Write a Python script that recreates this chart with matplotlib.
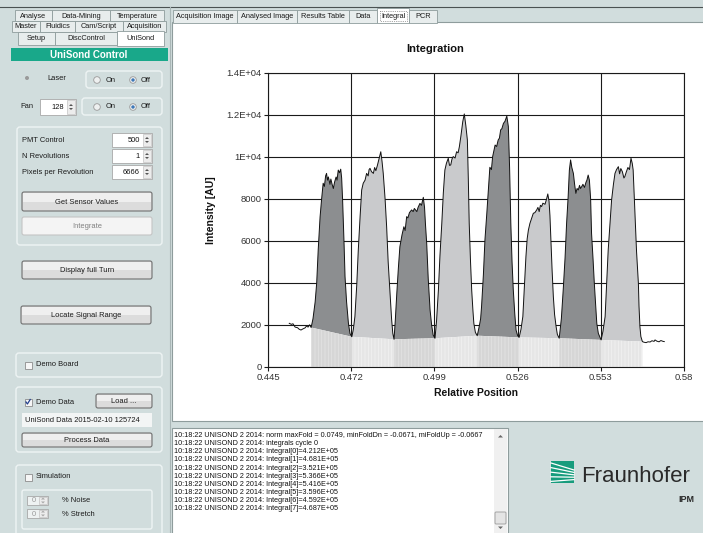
import numpy as np
import matplotlib.pyplot as plt
from matplotlib.patches import Rectangle, FancyBboxPatch, Circle, Polygon

# ---- chart data: (relative position, intensity) ----
trace = [
    # noise before first peak
    (0.4519, 2080), (0.4526, 2030), (0.4531, 2060), (0.4538, 1900), (0.4546, 1870),
    (0.4551, 1800), (0.4557, 1760), (0.4564, 1820), (0.4570, 1860), (0.4575, 1950),
    (0.4580, 1900), (0.4585, 2010), (0.4590, 1880),
    # peak 1
    (0.4596, 2300), (0.4603, 3100), (0.4608, 4000), (0.4613, 5600), (0.4619, 7150),
    (0.4624, 8000), (0.4629, 8750), (0.4633, 8600), (0.4637, 9100), (0.4640, 9220),
    (0.4643, 8900), (0.4646, 9050), (0.4651, 8700), (0.4654, 8950), (0.4658, 8700),
    (0.4662, 8500), (0.4666, 8800), (0.4671, 9050), (0.4674, 8900), (0.4678, 9380),
    (0.4682, 9250), (0.4686, 9420), (0.4689, 9000), (0.4692, 8000), (0.4694, 7150),
    (0.4697, 5800), (0.4700, 4300), (0.4705, 3100), (0.4711, 2080), (0.4716, 1600),
    (0.4722, 1440),
    # peak 2
    (0.4727, 1800), (0.4732, 2400), (0.4738, 3900), (0.4743, 5570), (0.4749, 7200),
    (0.4754, 8430), (0.4759, 8750), (0.4765, 8900), (0.4770, 9220), (0.4775, 9100),
    (0.4778, 9400), (0.4781, 9460), (0.4786, 9300), (0.4792, 9220), (0.4796, 9500),
    (0.4800, 9350), (0.4805, 9600), (0.4810, 9900), (0.4816, 10250), (0.4820, 9800),
    (0.4824, 9220), (0.4830, 8000), (0.4835, 6680), (0.4840, 5000), (0.4846, 3510),
    (0.4851, 2300), (0.4855, 1600), (0.4859, 1320),
    # peak 3
    (0.4863, 2200), (0.4868, 3510), (0.4873, 4700), (0.4878, 5730), (0.4885, 6300),
    (0.4891, 6680), (0.4895, 6500), (0.4900, 7160), (0.4904, 7100), (0.4909, 7350),
    (0.4916, 7480), (0.4921, 7400), (0.4925, 7550), (0.4933, 7400), (0.4937, 7600),
    (0.4943, 7790), (0.4948, 7700), (0.4954, 8080), (0.4958, 7600), (0.4961, 6800),
    (0.4965, 5890), (0.4970, 4200), (0.4976, 2710), (0.4981, 2000), (0.4986, 1520),
    (0.4992, 1370),
    # peak 4
    (0.4997, 2200), (0.5003, 3670), (0.5008, 5300), (0.5014, 6840), (0.5019, 8300),
    (0.5024, 9380), (0.5029, 9700), (0.5035, 9940), (0.5039, 9600), (0.5043, 9620),
    (0.5047, 9900), (0.5051, 10020), (0.5057, 9950), (0.5062, 10250), (0.5067, 10200),
    (0.5071, 10490), (0.5076, 11000), (0.5082, 11680), (0.5087, 12050), (0.5092, 11500),
    (0.5097, 10810), (0.5100, 9000), (0.5103, 6840), (0.5107, 5100), (0.5111, 3670),
    (0.5115, 2700), (0.5118, 2080), (0.5123, 1650), (0.5129, 1490),
    # peak 5
    (0.5135, 1900), (0.5140, 2300), (0.5143, 2870), (0.5149, 4400), (0.5154, 6050),
    (0.5160, 7300), (0.5165, 8430), (0.5170, 9510), (0.5175, 9400), (0.5179, 10020),
    (0.5183, 10300), (0.5187, 10570), (0.5192, 10500), (0.5197, 10810), (0.5201, 10900),
    (0.5205, 11290), (0.5209, 11350), (0.5214, 11600), (0.5219, 11700), (0.5225, 11950),
    (0.5230, 11450), (0.5234, 9500), (0.5238, 6840), (0.5242, 5000), (0.5246, 3670),
    (0.5251, 2500), (0.5255, 1760), (0.5260, 1500), (0.5265, 1410),
    # peak 6
    (0.5271, 1800), (0.5277, 2400), (0.5282, 3800), (0.5287, 5250), (0.5291, 6100),
    (0.5295, 6520), (0.5300, 6840), (0.5306, 7100), (0.5311, 7320), (0.5316, 7350),
    (0.5322, 7480), (0.5326, 7600), (0.5330, 7400), (0.5334, 7700), (0.5338, 7640),
    (0.5342, 7800), (0.5349, 7750), (0.5354, 8000), (0.5358, 8240), (0.5362, 7900),
    (0.5365, 7200), (0.5368, 6050), (0.5372, 4600), (0.5376, 3350), (0.5380, 2500),
    (0.5385, 1920), (0.5389, 1550), (0.5395, 1370),
    # peak 7
    (0.5402, 2300), (0.5408, 3670), (0.5414, 5200), (0.5419, 6840), (0.5424, 8100),
    (0.5428, 9380), (0.5432, 9860), (0.5436, 9500), (0.5441, 9220), (0.5445, 8700),
    (0.5449, 8270), (0.5453, 8500), (0.5457, 8430), (0.5461, 8650), (0.5464, 8500),
    (0.5468, 8590), (0.5472, 8700), (0.5477, 8550), (0.5482, 8800), (0.5485, 8900),
    (0.5489, 9140), (0.5493, 8900), (0.5497, 8000), (0.5500, 6360), (0.5505, 5100),
    (0.5509, 3980), (0.5513, 3000), (0.5517, 2080), (0.5522, 1600), (0.5531, 1290),
    # peak 8
    (0.5537, 1700), (0.5544, 2400), (0.5549, 4000), (0.5554, 5570), (0.5560, 6900),
    (0.5565, 7950), (0.5571, 8700), (0.5576, 9220), (0.5581, 9400), (0.5587, 9540),
    (0.5591, 9200), (0.5595, 9450), (0.5600, 9300), (0.5605, 9000), (0.5608, 9070),
    (0.5613, 9300), (0.5618, 9500), (0.5623, 9400), (0.5628, 9940), (0.5632, 9700),
    (0.5635, 9380), (0.5638, 8300), (0.5641, 7160), (0.5646, 5500), (0.5652, 3980),
    (0.5654, 2900), (0.5657, 1920), (0.5660, 1450), (0.5665, 1210),
    # tail
    (0.5670, 1180), (0.5677, 1160), (0.5683, 1200), (0.5690, 1190), (0.5696, 1250),
    (0.5703, 1220), (0.5706, 1290), (0.5712, 1230), (0.5719, 1200), (0.5725, 1260),
    (0.5732, 1220), (0.5736, 1210),
]
# integration windows (start of peak 1 ... end of peak 8)
seg_edges = [0.4590, 0.4722, 0.4859, 0.4992, 0.5129, 0.5265, 0.5395, 0.5531, 0.5665]

x_ticks = [0.445, 0.472, 0.499, 0.526, 0.553, 0.58]
x_tick_labels = ['0.445', '0.472', '0.499', '0.526', '0.553', '0.58']
y_ticks = [0, 2000, 4000, 6000, 8000, 10000, 12000, 14000]
y_tick_labels = ['0', '2000', '4000', '6000', '8000', '1E+04', '1.2E+04', '1.4E+04']

integrals = [4.212e5, 4.681e5, 3.521e5, 5.366e5, 5.416e5, 3.596e5, 4.592e5, 4.687e5]
log_head = ['norm maxFold = 0.0749, minFoldDn = -0.0671, miFoldUp = -0.0667',
            'integrals cycle 0']
stamp = '10:18:22 UNISOND 2 2014: '

chart_tabs = ['Acquisition Image', 'Analysed Image', 'Results Table', 'Data', 'Integral', 'PCR']
chart_tab_x = [173, 237, 297, 349, 377, 409, 437]

plt.rcParams['font.family'] = ['Liberation Sans', 'DejaVu Sans']
plt.rcParams['hatch.linewidth'] = 0.6

W, H = 703, 533
BG = '#d1dddd'
fig = plt.figure(figsize=(W / 100, H / 100), dpi=100)
fig.patch.set_facecolor(BG)

# full-size axes in pixel units for the GUI around the chart
ui = fig.add_axes([0, 0, 1, 1])
ui.set_xlim(0, W)
ui.set_ylim(H, 0)
ui.axis('off')


def rbox(x0, y0, x1, y1, fc, ec, lw=0.8, r=0, z=2, ls='-'):
    if r:
        p = FancyBboxPatch((x0, y0), x1 - x0, y1 - y0, boxstyle=f'round,pad=0,rounding_size={r}',
                           fc=fc, ec=ec, lw=lw, zorder=z, ls=ls)
    else:
        p = Rectangle((x0, y0), x1 - x0, y1 - y0, fc=fc, ec=ec, lw=lw, zorder=z, ls=ls)
    ui.add_patch(p)


def txt(x, y, s, size=5.4, ha='left', color='#1a1a1a', weight='normal', z=6):
    ui.text(x, y, s, fontsize=size, ha=ha, va='center', color=color, fontweight=weight, zorder=z)


def button(x0, y0, x1, y1, s, enabled=True):
    if enabled:
        rbox(x0, y0, x1, y1, '#dcdcdc', '#707070', 0.8, 2)
        rbox(x0 + 1, y0 + 1, x1 - 1, (y0 + y1) / 2, '#efefef', 'none', 0, 0, z=3)
        txt((x0 + x1) / 2, (y0 + y1) / 2 + 0.5, s, ha='center')
    else:
        rbox(x0, y0, x1, y1, '#f4f4f4', '#c4c4c4', 0.8, 2)
        txt((x0 + x1) / 2, (y0 + y1) / 2 + 0.5, s, ha='center', color='#808080')


def group(x0, y0, x1, y1):
    rbox(x0, y0, x1, y1, 'none', '#eef4f4', 1.0, 3, z=1.5)


def radio(x, y, on):
    ui.add_patch(Circle((x, y), 3.3, fc='#eef0f0', ec='#9a9a9a', lw=0.6, zorder=4))
    if on:
        ui.add_patch(Circle((x, y), 1.7, fc='#3d78b8', ec='none', zorder=5))


def check(x, y, on):
    ui.add_patch(Rectangle((x - 3.5, y - 3.5), 7, 7, fc='#f6f6f6', ec='#8c8c8c', lw=0.6, zorder=4))
    if on:
        ui.plot([x - 2, x - 0.6, x + 2.2], [y, y + 2, y - 2.5], color='#23408e', lw=0.9, zorder=5)


def spin(x0, y0, x1, y1, val, enabled=True):
    rbox(x0, y0, x1, y1, 'white' if enabled else '#eef2f2', '#a8a8a8', 0.6)
    rbox(x1 - 9, y0 + 1, x1 - 1, y1 - 1, '#ececec', '#c4c4c4', 0.5, z=3)
    ym = (y0 + y1) / 2
    tc = '#555' if enabled else '#aaa'
    ui.add_patch(Polygon([(x1 - 7, ym - 1), (x1 - 3, ym - 1), (x1 - 5, ym - 3)], fc=tc, ec='none', zorder=4))
    ui.add_patch(Polygon([(x1 - 7, ym + 1), (x1 - 3, ym + 1), (x1 - 5, ym + 3)], fc=tc, ec='none', zorder=4))
    txt(x1 - 12, ym + 0.5, val, ha='right', color='#111' if enabled else '#9a9a9a')


def tab(x0, y0, x1, y1, s, sel=False):
    rbox(x0, y0, x1, y1, 'white' if sel else '#e8eded', '#8e9c9c', 0.6)
    txt((x0 + x1) / 2, (y0 + y1) / 2 + 0.5, s, ha='center', size=5.3)


# top strip and panel divider
ui.plot([0, W], [7, 7], color='#4a5252', lw=0.8, zorder=3)
ui.plot([169.5, 169.5], [7, H], color='#a9b6b6', lw=0.8, zorder=3)

# left tab rows
for s, a, b in [('Analyse', 15, 52), ('Data-Mining', 52, 110), ('Temperature', 110, 164)]:
    tab(a, 10, b, 21, s)
for s, a, b in [('Master', 12, 40), ('Fluidics', 40, 75), ('Cam/Script', 75, 123), ('Acquisition', 123, 166)]:
    tab(a, 21, b, 32, s)
for s, a, b in [('Setup', 18, 55), ('DiscControl', 55, 117)]:
    tab(a, 32, b, 45, s)
tab(117, 31, 164, 46, 'UniSond', sel=True)

rbox(11, 48, 168, 61, '#19a88a', 'none', 0)
txt(89, 55, 'UniSond Control', size=7, ha='center', color='white', weight='bold')

# laser / fan
ui.add_patch(Circle((27, 78), 2, fc='#9a9a9a', ec='none', zorder=4))
txt(47, 79, 'Laser')
rbox(86, 71, 162, 88, 'none', '#eef4f4', 1.0, 3)
radio(97, 80, False)
txt(106, 80, 'On')
radio(133, 80, True)
txt(141, 80, 'Off')

txt(20, 107, 'Fan')
spin(40, 99, 76, 115, '128')
rbox(82, 98, 162, 115, 'none', '#eef4f4', 1.0, 3)
radio(97, 107, False)
txt(106, 107, 'On')
radio(133, 107, True)
txt(141, 107, 'Off')

# PMT group
group(17, 127, 162, 245)
for lab, val, yy in [('PMT Control', '500', 140), ('N Revolutions', '1', 156), ('Pixels per Revolution', '6666', 172)]:
    txt(22, yy, lab)
    spin(112, yy - 7, 152, yy + 7, val)
button(22, 192, 152, 211, 'Get Sensor Values')
button(22, 217, 152, 235, 'Integrate', enabled=False)
button(22, 261, 152, 279, 'Display full Turn')
button(21, 306, 151, 324, 'Locate Signal Range')

group(16, 353, 162, 377)
check(28, 365, False)
txt(36, 365, 'Demo Board')

group(16, 387, 162, 452)
check(28, 402, True)
txt(36, 402, 'Demo Data')
button(96, 394, 152, 408, 'Load ...')
rbox(22, 413, 152, 427, '#f3f5f5', 'none', 0)
txt(25, 420, 'UniSond Data 2015-02-10 125724')
button(22, 433, 152, 447, 'Process Data')

group(16, 465, 162, 540)
check(28, 477, False)
txt(36, 477, 'Simulation')
rbox(22, 490, 152, 529, 'none', '#eef4f4', 1.0, 2)
spin(27, 496, 48, 505, '0', enabled=False)
txt(62, 500, '% Noise')
spin(27, 509, 48, 518, '0', enabled=False)
txt(62, 514, '% Stretch')

# right side: chart tabs and white content
rbox(172, 22, W + 2, 421, 'white', '#8e9c9c', 0.8, z=1)
for i, s in enumerate(chart_tabs):
    sel = s == 'Integral'
    tab(chart_tab_x[i], 8 if sel else 10, chart_tab_x[i + 1], 23, s, sel)
rbox(380, 11, 407, 21, 'none', '#555555', 0.5, z=4, ls=':')

ui.text(435, 48.5, 'Integration', fontsize=8, fontweight='bold', ha='center', va='center', color='#111')

# log box
rbox(172, 428, 508, H + 2, 'white', '#8e9c9c', 0.8)
rbox(494, 429, 507, H, '#f0f0f0', 'none', 0, z=3)
rbox(495, 512, 506, 524, '#e4e4e4', '#9a9a9a', 0.6, 1, z=4)
ui.add_patch(Polygon([(498, 437.5), (503, 437.5), (500.5, 435)], fc='#666', ec='none', zorder=4))
ui.add_patch(Polygon([(498, 526.5), (503, 526.5), (500.5, 529)], fc='#666', ec='none', zorder=4))
log_lines = log_head + [f'Integral[{i}]={v:.3E}' for i, v in enumerate(integrals)]
for i, line in enumerate(log_lines):
    txt(174, 435.5 + i * 8.15, stamp + line, size=5.25, color='#111')

# Fraunhofer logo
rbox(551, 461, 574, 483, '#179c7d', 'none', 0)
for k in range(5):
    ui.plot([551, 574], [463 + k * 4.6, 470 + k * 2.4], color='white', lw=0.9, zorder=4)
ui.text(581, 476, 'Fraunhofer', fontsize=16, color='#2a2a2a', ha='left', va='center')
ui.text(694, 499, 'IPM', fontsize=6.5, fontweight='bold', color='#2a2a2a', ha='right', va='center')

# ---- the chart itself ----
pos = np.array([p[0] for p in trace])
val = np.array([p[1] for p in trace])
edge_levels = np.interp(seg_edges, pos, val)

ax = fig.add_axes([268 / W, 1 - 367 / H, 416 / W, 294 / H])
ax.set_facecolor('white')
peak_colors = ['#8c8e90', '#c9cacc']
band_colors = ['#d6d6d6', '#e6e6e6']
stripe_colors = ['#e2e2e2', '#f1f1f1']
for i in range(len(seg_edges) - 1):
    a, b = seg_edges[i], seg_edges[i + 1]
    m = (pos >= a - 1e-9) & (pos <= b + 1e-9)
    xs = pos[m]
    base = np.interp(xs, [a, b], [edge_levels[i], edge_levels[i + 1]])
    ax.fill_between(xs, base, val[m], facecolor=peak_colors[i % 2], lw=0, zorder=2)
    ax.fill_between(xs, 0, base, facecolor=band_colors[i % 2], edgecolor=stripe_colors[i % 2],
                    hatch='|||||', lw=0, zorder=2)
ax.plot(pos, val, color='#111111', lw=0.7, zorder=4)

ax.set_xlim(0.445, 0.58)
ax.set_ylim(0, 14000)
ax.set_xticks(x_ticks)
ax.set_xticklabels(x_tick_labels)
ax.set_yticks(y_ticks)
ax.set_yticklabels(y_tick_labels)
ax.grid(True, color='#1a1a1a', lw=0.8)
ax.set_axisbelow(True)
for s in ax.spines.values():
    s.set_color('#1a1a1a')
    s.set_linewidth(0.8)
ax.tick_params(length=3, width=0.8, pad=1.5, labelsize=6.8, labelcolor='#333333', color='#1a1a1a')
ax.set_xlabel('Relative Position', fontsize=7.5, fontweight='bold', labelpad=4, color='#111')
ax.set_ylabel('Intensity [AU]', fontsize=7.5, fontweight='bold', color='#111')
ax.yaxis.set_label_coords(-0.125, 0.534)

fig.savefig('out.png', dpi=100, facecolor=fig.get_facecolor())
